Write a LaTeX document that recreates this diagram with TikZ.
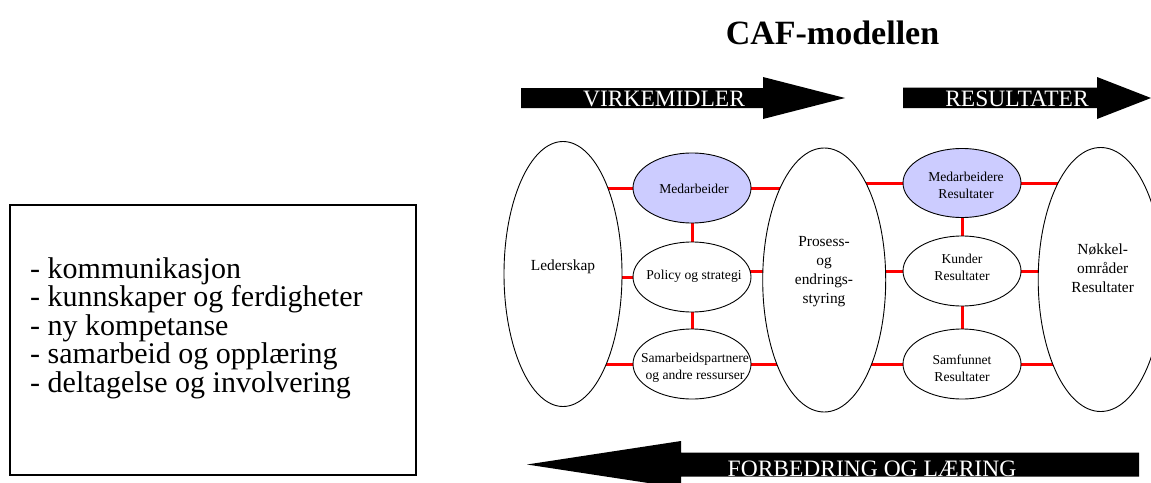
\documentclass[tikz,border=0pt]{standalone}
\usepackage{fontspec}
\setmainfont{Liberation Serif}
\usetikzlibrary{shapes.geometric}
\pgfdeclarelayer{background}
\pgfsetlayers{background,main}
\definecolor{lav}{RGB}{204,204,255}
\begin{document}
\begin{tikzpicture}[x=1pt,y=-1pt,
  ell/.style={ellipse, draw=black, line width=0.9pt, fill=white, inner sep=0pt},
  bigell/.style={ell, minimum width=#1, minimum height=265pt},
  smallell/.style={ell, minimum width=118pt, minimum height=70pt},
  hl/.style={fill=lav},
  redline/.style={draw=red, line width=3pt},
  bigtxt/.style={font=\fontsize{15.4}{19}\selectfont, align=center, inner sep=0pt},
  smalltxt/.style={font=\fontsize{13.6}{17}\selectfont, align=center, inner sep=0pt},
  arrowtxt/.style={text=white, font=\fontsize{23.5}{26}\selectfont, anchor=base, inner sep=0pt},
  blackarrow/.style={fill=black, draw=none}
]
\useasboundingbox (0,0) rectangle (1151,482);

% title
\node[anchor=base, font=\fontsize{34}{38}\selectfont\bfseries, inner sep=0pt] (title) at (832.5,44) {CAF-modellen};

% left box
\node[draw=black, line width=1.6pt, minimum width=406pt, minimum height=270pt, inner sep=0pt] (box) at (213,340) {};
\node[anchor=west, align=left, inner sep=0pt, font=\fontsize{30}{28.5}\selectfont] (boxt) at (30,328)
  {- kommunikasjon\\- kunnskaper og ferdigheter\\- ny kompetanse\\- samarbeid og opplæring\\- deltagelse og involvering};

% arrows
\path[blackarrow] (521,88) -- (763,88) -- (763,77) -- (845,98) -- (763,119) -- (763,108) -- (521,108) -- cycle;
\node[arrowtxt] (virk) at (664,106.5) {VIRKEMIDLER};
\path[blackarrow] (903,87.5) -- (1097,87.5) -- (1097,77) -- (1151,98) -- (1097,119) -- (1097,108) -- (903,108) -- cycle;
\node[arrowtxt] (res) at (1017,106.7) {RESULTATER};
\path[blackarrow] (1139,452.5) -- (681,452.5) -- (681,441) -- (527,464.5) -- (681,488) -- (681,476.7) -- (1139,476.7) -- cycle;
\node[arrowtxt] (forb) at (872,476) {FORBEDRING OG LÆRING};

% ellipses
\node[bigell=118pt] (led) at (563,274) {};
\node[bigell=123pt, minimum height=264pt] (pro) at (824.2,280) {};
\node[bigell=125pt, minimum height=264pt] (nok) at (1100.7,279.5) {};

\node[smallell, hl] (med) at (692,188) {};
\node[smallell] (pol) at (692,277) {};
\node[smallell] (sam) at (692,364) {};
\node[smallell, hl, minimum height=69pt] (medr) at (962,183) {};
\node[smallell] (kun) at (962,271) {};
\node[smallell] (samf) at (962,364) {};

% connectors
\begin{pgfonlayer}{background}
\draw[redline] (led.center |- med.center) -- (med.center) -- (pro.center |- med.center);
\draw[redline] (led.center |- pol.center) -- (pol.center);
\draw[redline] ([yshift=6pt]pol.center) -- ([yshift=6pt]pro.center |- pol.center);
\draw[redline] (led.center |- sam.center) -- (sam.center) -- (pro.center |- sam.center);
\draw[redline] (med) -- (pol);
\draw[redline] (pol) -- (sam);
\draw[redline] (pro.center |- medr.center) -- (medr.center) -- (nok.center |- medr.center);
\draw[redline] (pro.center |- kun.center) -- (kun.center) -- (nok.center |- kun.center);
\draw[redline] (pro.center |- samf.center) -- (samf.center) -- (nok.center |- samf.center);
\draw[redline] (medr) -- (kun);
\draw[redline] (kun) -- (samf);
\end{pgfonlayer}

% texts
\node[bigtxt] (ledt) at (563,267) {Lederskap};
\node[bigtxt] (prot) at (824,272) {Prosess-\\og\\endrings-\\styring};
\node[bigtxt] (nokt) at (1102.7,268) {Nøkkel-\\områder\\Resultater};
\node[smalltxt] (medt) at (694,189) {Medarbeider};
\node[smalltxt] (polt) at (694,276) {Policy og strategi};
\node[smalltxt] (samt) at (695,368) {Samarbeidspartnere\\og andre ressurser};
\node[smalltxt] (medrt) at (966,185) {Medarbeidere\\Resultater};
\node[smalltxt] (kunt) at (962,267) {Kunder\\Resultater};
\node[smalltxt] (samft) at (962,368) {Samfunnet\\Resultater};
\end{tikzpicture}
\end{document}
